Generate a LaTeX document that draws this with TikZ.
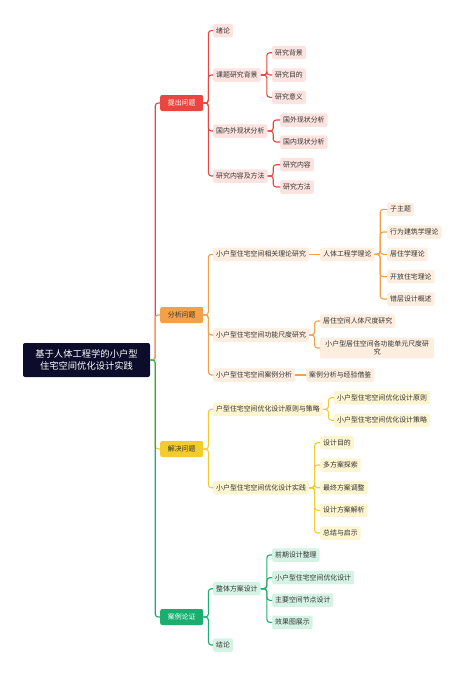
\documentclass[tikz,border=0pt]{standalone}
\usepackage{fontspec}
\setmainfont{Noto Sans CJK SC}
\usepackage{tikz}
\usetikzlibrary{positioning}

\definecolor{rootfill}{HTML}{0B0D2A}
\definecolor{redmain}{HTML}{E8473F}
\definecolor{redlight}{HTML}{FDE3E0}
\definecolor{orangemain}{HTML}{F2A04A}
\definecolor{orangelight}{HTML}{FDEEDF}
\definecolor{yellowmain}{HTML}{F2CB2C}
\definecolor{yellowlight}{HTML}{FDF4D0}
\definecolor{greenmain}{HTML}{1BAE6F}
\definecolor{greenlight}{HTML}{D5F3E5}
\definecolor{leaftext}{HTML}{333333}

\tikzset{
  leaf/.style={rectangle, rounded corners=2pt, anchor=west, minimum height=13.5pt,
    inner xsep=3pt, inner ysep=1pt, text=leaftext, font=\fontsize{6.9}{8.5}\selectfont},
  redleaf/.style={leaf, fill=redlight},
  orangeleaf/.style={leaf, fill=orangelight},
  yellowleaf/.style={leaf, fill=yellowlight},
  greenleaf/.style={leaf, fill=greenlight},
  topic/.style={rectangle, rounded corners=2pt, anchor=west, minimum height=16pt,
    minimum width=43pt, inner xsep=2pt, font=\fontsize{6.9}{8.5}\selectfont},
  link/.style={line width=1.1pt, rounded corners=3pt},
}

\begin{document}
\begin{tikzpicture}[x=1pt, y=-1pt]
\useasboundingbox (0,0) rectangle (463,675);

% root
\node[rectangle, rounded corners=2pt, fill=rootfill, text=white, align=center,
  minimum width=127pt, minimum height=34pt, inner xsep=10pt,
  font=\fontsize{9.3}{12}\selectfont] (root) at (86.5,360) {基于人体工程学的小户型\\住宅空间优化设计实践};

% main branches
\node[topic, fill=redmain, text=white] (tc) at (160,103) {提出问题};
\node[topic, fill=orangemain, text=leaftext] (fx) at (160,315) {分析问题};
\node[topic, fill=yellowmain, text=leaftext] (jj) at (160,449) {解决问题};
\node[topic, fill=greenmain, text=white] (al) at (160,617) {案例论证};

% 提出问题
\node[redleaf] (xl) at (213,30.5) {绪论};
\node[redleaf] (kt) at (213,75) {课题研究背景};
\node[redleaf] (gn) at (213,131) {国内外现状分析};
\node[redleaf] (nr) at (213,176) {研究内容及方法};
\node[redleaf] (bg) at (272,52.7) {研究背景};
\node[redleaf] (md) at (272,75) {研究目的};
\node[redleaf] (yy) at (272,97.3) {研究意义};
\node[redleaf] (gw) at (280,120) {国外现状分析};
\node[redleaf] (gnx) at (280,142) {国内现状分析};
\node[redleaf] (nrx) at (280,164.7) {研究内容};
\node[redleaf] (ff) at (280,187) {研究方法};

% 分析问题
\node[orangeleaf] (ll) at (213,254.3) {小户型住宅空间相关理论研究};
\node[orangeleaf] (cd) at (213,335) {小户型住宅空间功能尺度研究};
\node[orangeleaf] (ka) at (213,375) {小户型住宅空间案例分析};
\node[orangeleaf] (rt) at (320,254.3) {人体工程学理论};
\node[orangeleaf] (zz) at (387,209.3) {子主题};
\node[orangeleaf] (xw) at (387,232) {行为建筑学理论};
\node[orangeleaf] (jz) at (387,254.3) {居住学理论};
\node[orangeleaf] (kf) at (387,276.7) {开放住宅理论};
\node[orangeleaf] (cc) at (387,299) {错层设计概述};
\node[orangeleaf] (jk) at (320,321) {居住空间人体尺度研究};
\node[orangeleaf, align=center, minimum width=114pt, inner ysep=3pt] (gd) at (320,348) {小户型居住空间各功能单元尺度研\\究};
\node[orangeleaf] (jy) at (306,375) {案例分析与经验借鉴};

% 解决问题
\node[yellowleaf] (yz) at (213,409.3) {户型住宅空间优化设计原则与策略};
\node[yellowleaf] (sj) at (213,487.7) {小户型住宅空间优化设计实践};
\node[yellowleaf] (yza) at (334,397.7) {小户型住宅空间优化设计原则};
\node[yellowleaf] (yzb) at (334,420.3) {小户型住宅空间优化设计策略};
\node[yellowleaf] (mm) at (320,442.7) {设计目的};
\node[yellowleaf] (ts) at (320,465) {多方案探索};
\node[yellowleaf] (tz) at (320,487.7) {最终方案调整};
\node[yellowleaf] (jx) at (320,510.3) {设计方案解析};
\node[yellowleaf] (zj) at (320,533) {总结与启示};

% 案例论证
\node[greenleaf] (zt) at (213,588.7) {整体方案设计};
\node[greenleaf] (jl) at (213,645) {结论};
\node[greenleaf] (qq) at (272,555) {前期设计整理};
\node[greenleaf] (yh) at (272,577.7) {小户型住宅空间优化设计};
\node[greenleaf] (jd) at (272,600.3) {主要空间节点设计};
\node[greenleaf] (xg) at (272,622.3) {效果图展示};

% connectors
\draw[link, redmain] (root.east) -- ++(5,0) |- (tc.west);
\foreach \c in {xl,kt,gn,nr} \draw[link, redmain] (tc.east) -- ++(5,0) |- (\c.west);
\foreach \c in {bg,md,yy} \draw[link, redmain] (kt.east) -- ++(6,0) |- (\c.west);
\foreach \c in {gw,gnx} \draw[link, redmain] (gn.east) -- ++(5.5,0) |- (\c.west);
\foreach \c in {nrx,ff} \draw[link, redmain] (nr.east) -- ++(5.5,0) |- (\c.west);

\draw[link, orangemain] (root.east) -- ++(5,0) |- (fx.west);
\foreach \c in {ll,cd,ka} \draw[link, orangemain] (fx.east) -- ++(5,0) |- (\c.west);
\draw[link, orangemain] (ll.east) -- (rt.west);
\foreach \c in {zz,xw,jz,kf,cc} \draw[link, orangemain] (rt.east) -- ++(5.5,0) |- (\c.west);
\foreach \c in {jk,gd} \draw[link, orangemain] (cd.east) -- ++(5.5,0) |- (\c.west);
\draw[link, orangemain] (ka.east) -- (jy.west);

\draw[link, yellowmain] (root.east) -- ++(5,0) |- (jj.west);
\foreach \c in {yz,sj} \draw[link, yellowmain] (jj.east) -- ++(5,0) |- (\c.west);
\foreach \c in {yza,yzb} \draw[link, yellowmain] (yz.east) -- ++(5.5,0) |- (\c.west);
\foreach \c in {mm,ts,tz,jx,zj} \draw[link, yellowmain] (sj.east) -- ++(5.5,0) |- (\c.west);

\draw[link, greenmain] (root.east) -- ++(5,0) |- (al.west);
\foreach \c in {zt,jl} \draw[link, greenmain] (al.east) -- ++(5,0) |- (\c.west);
\foreach \c in {qq,yh,jd,xg} \draw[link, greenmain] (zt.east) -- ++(6,0) |- (\c.west);
\end{tikzpicture}
\end{document}
